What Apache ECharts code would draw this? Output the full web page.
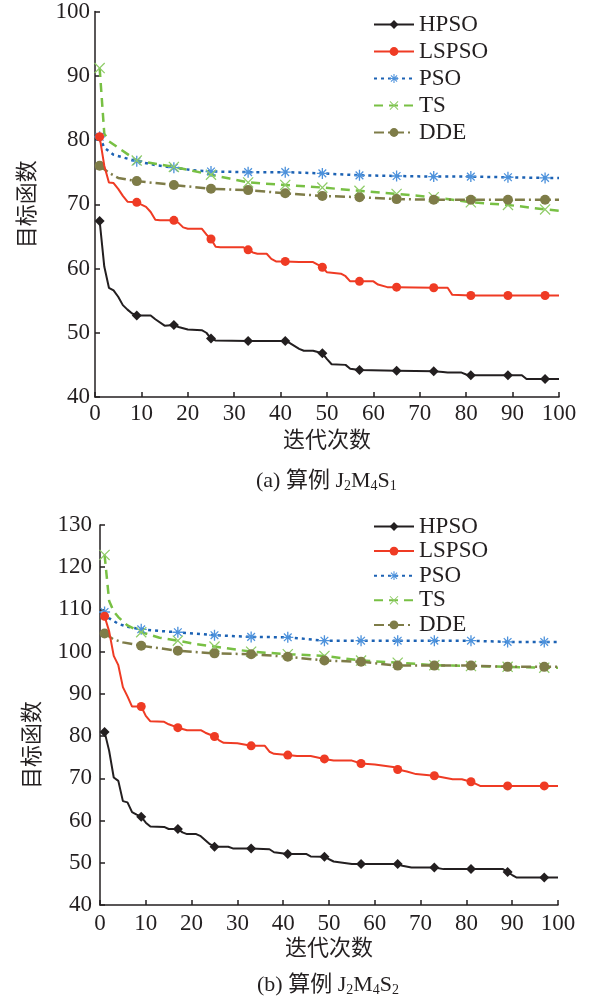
<!DOCTYPE html>
<html>
<head>
<meta charset="utf-8">
<script src="https://cdn.jsdelivr.net/npm/echarts@6/dist/echarts.min.js"></script>
<style>
  html, body { margin: 0; padding: 0; background: #fff; }
  #chart { width: 593px; height: 1001px; }
</style>
</head>
<body>
<div id="chart"></div>
<script>
// Iterations at which each curve carries a marker
const markerIters = [1, 9, 17, 25, 33, 41, 49, 57, 65, 73, 81, 89, 97];

const seriesNames = ['HPSO', 'LSPSO', 'PSO', 'TS', 'DDE'];

// Case (a) J2M4S1: [iteration, objective value]
const hpsoA = [[1,67.4],[2,60.3],[3,57.0],[4,56.6],[5,55.6],[6,54.3],[7,53.6],[8,53.0],[9,52.7],[12,52.7],[13,52.1],[15,51.1],[17,51.2],[18,50.9],[20,50.5],[23,50.4],[24,50.0],[25,49.1],[26,48.8],[33,48.7],[41,48.7],[42,48.4],[44,47.5],[45,47.2],[47,47.2],[49,46.8],[50,45.9],[51,45.1],[54,45.0],[55,44.4],[57,44.2],[65,44.1],[73,44.0],[75,43.9],[76,43.8],[79,43.8],[80,43.5],[81,43.4],[89,43.4],[92,43.4],[93,42.8],[97,42.8],[100,42.8]];
const lspsoA = [[1,80.5],[2,76.0],[3,73.4],[4,73.3],[5,72.4],[6,71.3],[7,70.4],[9,70.3],[11,69.6],[12,68.8],[13,67.6],[14,67.5],[17,67.5],[18,67.1],[19,66.4],[20,66.2],[23,66.2],[24,65.3],[25,64.6],[26,63.4],[27,63.3],[32,63.3],[33,62.9],[34,62.5],[35,62.3],[37,62.3],[38,61.5],[39,61.1],[41,61.1],[44,61.0],[47,61.0],[49,60.2],[50,59.4],[53,59.2],[54,58.8],[55,58.0],[57,58.0],[60,58.0],[61,57.5],[63,57.1],[65,57.1],[73,57.0],[76,57.0],[77,55.9],[81,55.8],[89,55.8],[97,55.8],[100,55.8]];
const psoA = [[1,80.5],[2,78.8],[4,77.7],[6,77.3],[9,76.7],[13,76.1],[17,75.7],[21,75.3],[25,75.1],[33,75.0],[41,75.0],[49,74.8],[57,74.5],[65,74.4],[73,74.3],[81,74.3],[89,74.2],[97,74.1],[100,74.1]];
const tsA = [[1,91.2],[2,81.0],[3,79.8],[5,78.8],[7,77.8],[9,76.8],[13,76.3],[17,75.8],[21,75.2],[25,74.6],[29,74.0],[33,73.4],[41,73.0],[49,72.6],[57,72.1],[65,71.6],[73,71.1],[81,70.3],[89,69.9],[97,69.2],[100,69.0]];
const ddeA = [[1,76.0],[3,74.9],[5,74.1],[9,73.6],[13,73.3],[17,73.0],[25,72.4],[33,72.2],[41,71.7],[49,71.3],[57,71.1],[65,70.8],[73,70.7],[81,70.7],[89,70.7],[97,70.7],[100,70.7]];

// Case (b) J2M4S2
const hpsoB = [[1,81.0],[2,76.5],[3,70.2],[4,69.4],[5,64.6],[6,64.3],[7,62.0],[8,61.4],[9,60.9],[10,59.5],[11,58.6],[14,58.5],[15,58.0],[17,58.0],[18,57.2],[19,56.8],[21,56.8],[22,56.3],[24,54.4],[25,53.8],[28,53.8],[29,53.4],[33,53.4],[37,53.2],[38,52.5],[41,52.1],[45,52.1],[46,51.5],[49,51.4],[51,50.3],[55,49.7],[57,49.7],[65,49.7],[66,49.3],[68,48.9],[73,48.9],[75,48.5],[81,48.5],[88,48.5],[89,47.8],[90,47.1],[91,46.5],[97,46.5],[100,46.5]];
const lspsoB = [[1,108.4],[2,104.8],[3,99.0],[4,96.8],[5,91.6],[6,89.4],[7,87.0],[9,87.0],[10,84.8],[11,83.5],[14,83.4],[15,82.8],[17,82.0],[19,81.4],[22,81.4],[23,80.8],[25,79.9],[26,79.0],[27,78.4],[30,78.3],[33,77.7],[36,77.7],[37,76.3],[38,75.8],[41,75.5],[43,75.3],[46,75.3],[49,74.6],[51,74.2],[55,74.2],[57,73.5],[60,73.3],[64,72.7],[65,72.1],[67,71.6],[69,71.0],[73,70.6],[77,69.8],[79,69.8],[81,69.2],[83,68.2],[89,68.2],[97,68.2],[100,68.2]];
const psoB = [[1,109.4],[2,107.9],[4,106.6],[6,105.9],[9,105.3],[13,104.9],[17,104.6],[25,103.9],[33,103.5],[41,103.4],[45,103.0],[49,102.6],[57,102.6],[65,102.6],[73,102.6],[81,102.6],[89,102.3],[97,102.3],[100,102.3]];
const tsB = [[1,122.9],[2,112.0],[3,109.5],[4,108.2],[6,106.2],[9,104.6],[13,103.3],[17,102.6],[21,101.8],[25,101.2],[33,100.0],[41,99.4],[49,99.0],[57,97.9],[65,97.4],[73,96.8],[81,96.6],[89,96.4],[97,96.2],[100,96.2]];
const ddeB = [[1,104.3],[3,102.9],[5,102.2],[9,101.4],[13,100.8],[17,100.2],[25,99.6],[33,99.4],[41,98.8],[49,97.9],[57,97.6],[65,96.7],[73,96.7],[81,96.7],[89,96.4],[97,96.4],[100,96.4]];

const xTicks = { min: 0, max: 100, step: 10 };
const yTicksA = { min: 40, max: 100, step: 10 };
const yTicksB = { min: 40, max: 130, step: 10 };

const SERIF = '"Liberation Serif", "Noto Sans CJK SC", serif';
const CJK = '"Noto Sans CJK SC", sans-serif';
const INK = '#231f20';

// Marker glyphs: asterisk and cross as thin filled bars
const asteriskPath = 'path://M-0.6,-5L0.6,-5L0.6,5L-0.6,5Z M-5,-0.6L5,-0.6L5,0.6L-5,0.6Z M-3.9,-3.1L-3.1,-3.9L3.9,3.1L3.1,3.9Z M3.1,-3.9L3.9,-3.1L-3.1,3.9L-3.9,3.1Z';
const crossPath = 'path://M-5,-4.2L-4.2,-5L5,4.2L4.2,5Z M4.2,-5L5,-4.2L-4.2,5L-5,4.2Z';

const styles = {
  HPSO:  { color: INK,       marker: INK,       symbol: 'diamond', size: 10, line: { width: 2,   type: 'solid' } },
  LSPSO: { color: '#ef3b24', marker: '#ef3b24', symbol: 'circle',  size: 9,  line: { width: 2,   type: 'solid' } },
  PSO:   { color: '#1c62b4', marker: '#4d92dc', symbol: asteriskPath, size: 11, line: { width: 2.5, type: [3, 4] } },
  TS:    { color: '#78c044', marker: '#8fcc68', symbol: crossPath,    size: 11, line: { width: 2.5, type: [9, 6] } },
  DDE:   { color: '#7e7c48', marker: '#7e7c48', symbol: 'circle',  size: 10, line: { width: 2.5, type: [10, 4, 2, 4] } }
};

function toData(points) {
  return points.map(p => markerIters.indexOf(p[0]) >= 0
    ? { value: p }
    : { value: p, symbol: 'none' });
}

function makeSeries(name, points, idx) {
  const s = styles[name];
  return {
    name: name,
    type: 'line',
    xAxisIndex: idx,
    yAxisIndex: idx,
    data: toData(points),
    symbol: s.symbol,
    symbolSize: s.size,
    showAllSymbol: true,
    smooth: false,
    lineStyle: { color: s.color, width: s.line.width, type: s.line.type },
    itemStyle: { color: s.marker, borderWidth: 0 },
    emphasis: { disabled: true },
    z: name === 'HPSO' || name === 'LSPSO' ? 3 : 2
  };
}

function xAxis(idx, labelMargin) {
  return {
    type: 'value', gridIndex: idx,
    min: xTicks.min, max: xTicks.max, interval: xTicks.step,
    name: '迭代次数', nameLocation: 'middle', nameGap: 31,
    nameTextStyle: { fontFamily: CJK, fontSize: 22, color: INK },
    axisLine: { show: true, lineStyle: { color: INK, width: 1.5 } },
    axisTick: { show: true, inside: true, length: 5, lineStyle: { color: INK, width: 1.5 } },
    axisLabel: { fontFamily: SERIF, fontSize: 23, color: INK, margin: labelMargin },
    splitLine: { show: false }
  };
}

function yAxis(idx, ticks, labelMargin, namePad) {
  return {
    type: 'value', gridIndex: idx,
    min: ticks.min, max: ticks.max, interval: ticks.step,
    name: '目标函数', nameLocation: 'middle', nameGap: 58,
    nameTextStyle: { fontFamily: CJK, fontSize: 22, color: INK, padding: namePad },
    axisLine: { show: true, lineStyle: { color: INK, width: 1.5 } },
    axisTick: { show: true, inside: true, length: 5, lineStyle: { color: INK, width: 1.5 } },
    axisLabel: { fontFamily: SERIF, fontSize: 23, color: INK, margin: labelMargin },
    splitLine: { show: false }
  };
}

function legend(top, gap) {
  return {
    data: seriesNames.map(n => n),
    orient: 'vertical',
    left: 368, top: top,
    itemWidth: 40, itemHeight: 11, itemGap: gap,
    textStyle: { fontFamily: SERIF, fontSize: 23, color: INK },
    selectedMode: false
  };
}

const captionRich = {
  n: { fontFamily: SERIF, fontSize: 22, fontWeight: 'normal', color: INK, lineHeight: 24 },
  s: { fontFamily: SERIF, fontSize: 14, fontWeight: 'normal', color: INK, lineHeight: 14, padding: [10, 0, 0, 0] }
};

const chart = echarts.init(document.getElementById('chart'), null, { renderer: 'canvas' });

const drawOrder = ['PSO', 'TS', 'DDE', 'LSPSO', 'HPSO'];
const caseA = { HPSO: hpsoA, LSPSO: lspsoA, PSO: psoA, TS: tsA, DDE: ddeA };
const caseB = { HPSO: hpsoB, LSPSO: lspsoB, PSO: psoB, TS: tsB, DDE: ddeB };
const series = [];
drawOrder.forEach(n => series.push(makeSeries(n, caseA[n], 0)));
drawOrder.forEach(n => series.push(makeSeries(n, caseB[n], 1)));

chart.setOption({
  animation: false,
  backgroundColor: '#fff',
  title: [
    { text: '{n|(a) 算例 J}{s|2}{n|M}{s|4}{n|S}{s|1}', left: 256, top: 469, padding: 0,
      textStyle: { fontWeight: 'normal', rich: captionRich } },
    { text: '{n|(b) 算例 J}{s|2}{n|M}{s|4}{n|S}{s|2}', left: 257, top: 973, padding: 0,
      textStyle: { fontWeight: 'normal', rich: captionRich } }
  ],
  legend: [legend(8, 4), legend(510, 1.6)],
  grid: [
    { left: 95, top: 10, width: 464, height: 387 },
    { left: 100, top: 525, width: 458, height: 380 }
  ],
  xAxis: [xAxis(0, 5), xAxis(1, 7)],
  yAxis: [yAxis(0, yTicksA, 5, [0, 0, 0, 0]), yAxis(1, yTicksB, 8, [0, 60, 0, 0])],
  series: series
});
</script>
</body>
</html>
